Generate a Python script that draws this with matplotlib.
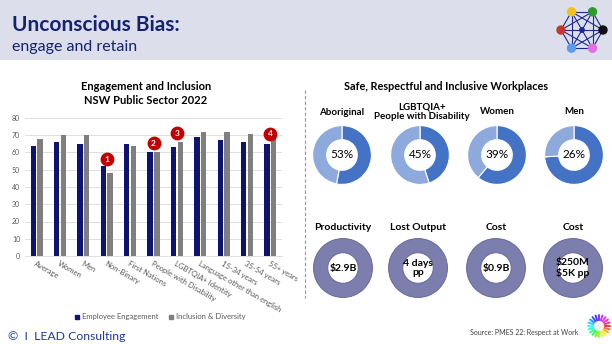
import numpy as np
import matplotlib
matplotlib.use("Agg")
import matplotlib.pyplot as plt
from matplotlib.patches import Rectangle, Circle
from matplotlib.lines import Line2D

plt.rcParams['font.family'] = ['Lato', 'DejaVu Sans']

# ---- data ----
categories = ['Average', 'Women', 'Men', 'Non-Binary', 'First Nations',
              'People with Disability', 'LGBTQIA+ Identity',
              'Language other than english', '15-34 years', '35-54 years',
              '55+ years']
engagement = [64, 66, 65, 52, 65, 60, 63, 69, 67, 66, 65]
inclusion = [68, 70, 70, 48, 64, 60, 66, 72, 72, 71, 68]
flag_cat = [3, 5, 6, 10]
flag_val = [56, 65.5, 71.3, 71]
flag_txt = ['1', '2', '3', '4']

safe_groups = ['Aboriginal', 'LGBTQIA+\nPeople with Disability', 'Women', 'Men']
safe_pct = [53, 45, 39, 26]
safe_dark = [53, 45, 61, 74]
cost_titles = ['Productivity', 'Lost Output', 'Cost', 'Cost']
cost_values = ['$2.9B', '4 days\npp', '$0.9B', '$250M\n$5K pp']

navy = '#0c1370'
gray = '#7f7f7f'
title_col = '#14236e'

W, H = 612, 344
fig = plt.figure(figsize=(W / 100, H / 100), dpi=100)


def fx(x):
    return x / W


def fy(y):
    return 1 - y / H


# decoration layer in pixel coords
deco = fig.add_axes([0, 0, 1, 1], zorder=0)
deco.set_xlim(0, W)
deco.set_ylim(H, 0)
deco.axis('off')
deco.add_patch(Rectangle((0, 0), W, 60, color='#dcdeeb', lw=0))
deco.text(12, 25, 'Unconscious Bias:', fontsize=15, fontweight='bold',
          color=title_col, va='center', ha='left')
deco.text(12, 47, 'engage and retain', fontsize=11.5, color=title_col,
          va='center', ha='left')
deco.plot([305, 305], [90, 298], ls=(0, (3, 2)), color='#8a90d2', lw=0.8)

# network logo
cx0, cy0, rr = 582, 30, 21
node_cols = ['#111111', '#2e9a2e', '#f2c21b', '#c0392b', '#5b9bf0', '#e070e0']
ang = np.deg2rad(np.arange(0, 360, 60))
nx = cx0 + rr * np.cos(ang)
ny = cy0 - rr * np.sin(ang)
for i in range(6):
    for j in range(i + 1, 6):
        deco.plot([nx[i], nx[j]], [ny[i], ny[j]], color='#1b2a8c', lw=0.8)
for i in range(6):
    deco.add_patch(Circle((nx[i], ny[i]), 4, color=node_cols[i], zorder=3))
deco.add_patch(Circle((cx0, cy0), 2.2, color='#1b2a8c', zorder=3))

# sun logo
sun_cols = plt.cm.hsv(np.linspace(0, 1, 20, endpoint=False))
for k, a in enumerate(np.linspace(0, 2 * np.pi, 20, endpoint=False)):
    deco.plot([599 + 5 * np.cos(a), 599 + 11 * np.cos(a)],
              [326 + 5 * np.sin(a), 326 + 11 * np.sin(a)],
              color=sun_cols[k], lw=1.4, solid_capstyle='round', alpha=0.8)
deco.add_patch(Circle((599, 326), 4.5, color='#eef2fa', zorder=3))

deco.text(8, 336, '\u00a9  I  LEAD Consulting', fontsize=8.8, color='#1f3c9c',
          va='center', ha='left')
deco.text(578, 332, 'Source: PMES 22: Respect at Work', fontsize=5,
          color='#404040', va='center', ha='right')

# ---- bar chart ----
ax = fig.add_axes([fx(25), fy(256), 257 / W, (256 - 118) / H], zorder=2)
ax.set_facecolor('none')
x = np.arange(len(categories))
bw = 0.23
ax.bar(x - 0.145, engagement, bw, color=navy, label='Employee Engagement', zorder=2)
ax.bar(x + 0.145, inclusion, bw, color=gray, label='Inclusion & Diversity', zorder=2)
ax.set_xlim(-0.5, len(categories) - 0.5)
ax.set_ylim(0, 80)
ax.set_yticks(range(0, 81, 10))
ax.grid(axis='y', color='#d9d9d9', lw=0.6, zorder=0)
for s in ['top', 'right', 'left']:
    ax.spines[s].set_visible(False)
ax.spines['bottom'].set_color('#d9d9d9')
ax.spines['bottom'].set_linewidth(0.6)
ax.tick_params(axis='both', length=0, labelsize=5, labelcolor='#595959')
ax.tick_params(axis='x', pad=3)
ax.set_xticks(x)
ax.set_xticklabels(categories, rotation=-30, ha='left', va='top',
                   rotation_mode='anchor', fontsize=5.5)
ax.scatter(flag_cat, flag_val, s=80, color='#c00000', zorder=4, clip_on=False)
for c, v, t in zip(flag_cat, flag_val, flag_txt):
    ax.text(c, v, t, color='white', fontsize=6, fontweight='bold',
            ha='center', va='center', zorder=5)

fig.text(fx(146), fy(86), 'Engagement and Inclusion', ha='center', va='center',
         fontsize=8, fontweight='bold')
fig.text(fx(146), fy(100.5), 'NSW Public Sector 2022', ha='center', va='center',
         fontsize=8, fontweight='bold')

handles = [Line2D([], [], marker='s', ls='', color=navy, markersize=3.5),
           Line2D([], [], marker='s', ls='', color=gray, markersize=3.5)]
fig.legend(handles, ['Employee Engagement', 'Inclusion & Diversity'],
           loc='center', bbox_to_anchor=(fx(160), fy(317)), ncol=2,
           frameon=False, fontsize=5.5, handlelength=0.8, handletextpad=0.3,
           columnspacing=1.2, labelcolor='#595959')

# ---- donuts ----
fig.text(fx(446), fy(86), 'Safe, Respectful and Inclusive Workplaces',
         ha='center', va='center', fontsize=7.8, fontweight='bold')

row1_x = [342, 420, 497, 574]
row2_x = [343, 418, 496, 573]
r = 30


def donut_axes(cx, cy):
    a = fig.add_axes([fx(cx - r), fy(cy + r), 2 * r / W, 2 * r / H], zorder=2)
    a.axis('off')
    return a


for i in range(4):
    a = donut_axes(row1_x[i], 155)
    a.pie([safe_dark[i], 100 - safe_dark[i]], colors=['#4472c4', '#8eaadc'],
          startangle=90, counterclock=False, radius=1,
          wedgeprops=dict(width=0.48, edgecolor='white', linewidth=0.8))
    a.set_xlim(-1.02, 1.02)
    a.set_ylim(-1.02, 1.02)
    a.text(0, 0, f'{safe_pct[i]}%', ha='center', va='center', fontsize=8.5)

fig.text(fx(342), fy(113), safe_groups[0], ha='center', va='center',
         fontsize=7, fontweight='bold')
fig.text(fx(422), fy(111.5), safe_groups[1], ha='center', va='center',
         fontsize=7, fontweight='bold', linespacing=1.1)
fig.text(fx(497), fy(112), safe_groups[2], ha='center', va='center',
         fontsize=7, fontweight='bold')
fig.text(fx(574), fy(112), safe_groups[3], ha='center', va='center',
         fontsize=7, fontweight='bold')

for i in range(4):
    a = donut_axes(row2_x[i], 268)
    a.pie([1], colors=['#7c7fad'], radius=1,
          wedgeprops=dict(width=0.48, edgecolor='#6b6e9c', linewidth=0.8))
    a.set_xlim(-1.02, 1.02)
    a.set_ylim(-1.02, 1.02)
    a.text(0, 0, cost_values[i], ha='center', va='center', fontsize=7.5,
           fontweight='bold', linespacing=1.0)
    fig.text(fx(row2_x[i]), fy(228), cost_titles[i], ha='center', va='center',
             fontsize=7.5, fontweight='bold')

fig.savefig('out.png', dpi=100)
